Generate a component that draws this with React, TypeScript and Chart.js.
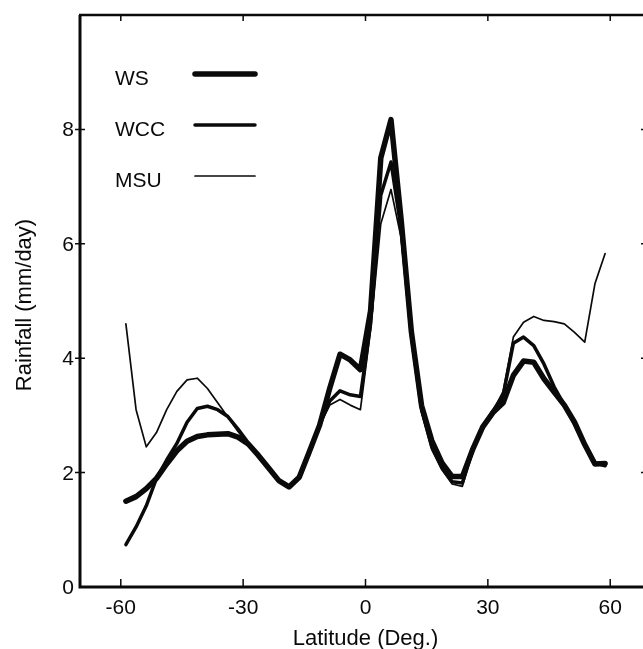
import React, { useEffect, useRef } from "react";
import { Chart, registerables } from "chart.js";

Chart.register(...registerables);

// ── Data (zonal mean rainfall, mm/day) ───────────────────────
const latitudes = [
  -58.75, -56.25, -53.75, -51.25, -48.75, -46.25, -43.75, -41.25, -38.75, -36.25,
  -33.75, -31.25, -28.75, -26.25, -23.75, -21.25, -18.75, -16.25, -13.75, -11.25,
  -8.75, -6.25, -3.75, -1.25, 1.25, 3.75, 6.25, 8.75, 11.25, 13.75,
  16.25, 18.75, 21.25, 23.75, 26.25, 28.75, 31.25, 33.75, 36.25, 38.75,
  41.25, 43.75, 46.25, 48.75, 51.25, 53.75, 56.25, 58.75,
];

const wsRain = [
  1.50, 1.58, 1.72, 1.90, 2.15, 2.38, 2.55, 2.63, 2.66, 2.67,
  2.68, 2.62, 2.50, 2.30, 2.08, 1.86, 1.75, 1.92, 2.37, 2.83,
  3.48, 4.07, 3.97, 3.80, 4.83, 7.50, 8.17, 6.41, 4.46, 3.17,
  2.56, 2.17, 1.93, 1.93, 2.40, 2.80, 3.05, 3.22, 3.70, 3.95,
  3.93, 3.64, 3.41, 3.18, 2.88, 2.49, 2.15, 2.16,
];

const wccRain = [
  0.74, 1.05, 1.42, 1.90, 2.22, 2.51, 2.88, 3.12, 3.16, 3.10,
  2.98, 2.76, 2.52, 2.30, 2.08, 1.86, 1.75, 1.92, 2.37, 2.83,
  3.25, 3.43, 3.36, 3.33, 4.60, 6.85, 7.43, 6.25, 4.40, 3.10,
  2.45, 2.08, 1.84, 1.82, 2.38, 2.80, 3.08, 3.35, 4.26, 4.37,
  4.22, 3.90, 3.50, 3.18, 2.85, 2.50, 2.17, 2.12,
];

const msuRain = [
  4.60, 3.10, 2.45, 2.70, 3.10, 3.42, 3.62, 3.65, 3.47, 3.22,
  2.97, 2.72, 2.50, 2.30, 2.08, 1.86, 1.75, 1.92, 2.37, 2.83,
  3.18, 3.28, 3.18, 3.10, 4.50, 6.35, 6.95, 6.10, 4.35, 3.05,
  2.40, 2.05, 1.80, 1.76, 2.36, 2.80, 3.08, 3.42, 4.37, 4.63,
  4.73, 4.66, 4.64, 4.60, 4.45, 4.28, 5.30, 5.83,
];

const seriesNames = ["WS", "WCC", "MSU"];
const xTicks = [-60, -30, 0, 30, 60];
const yTicks = [0, 2, 4, 6, 8];

const FONT = '"Liberation Sans", Arial, Helvetica, sans-serif';
const INK = "#0a0a0a";

// ── Frame, ticks, labels, legend ─────────────────────────────
const framePlugin = {
  id: "frame",
  afterDraw(chart: Chart) {
    const { ctx, chartArea: a } = chart;
    const x = chart.scales.x;
    const y = chart.scales.y;
    ctx.save();
    ctx.strokeStyle = INK;
    ctx.fillStyle = INK;
    ctx.lineCap = "butt";

    // axis lines (no right border inside the picture)
    ctx.lineWidth = 3;
    ctx.beginPath();
    ctx.moveTo(a.left, a.top);
    ctx.lineTo(a.left, a.bottom);
    ctx.lineTo(a.right, a.bottom);
    ctx.stroke();
    ctx.lineWidth = 2.5;
    ctx.beginPath();
    ctx.moveTo(a.left - 1, a.top);
    ctx.lineTo(a.right, a.top);
    ctx.stroke();

    // x ticks, inward on bottom and top
    ctx.lineWidth = 1.5;
    xTicks.forEach(v => {
      const px = x.getPixelForValue(v);
      ctx.beginPath();
      ctx.moveTo(px, a.bottom);
      ctx.lineTo(px, a.bottom - 8);
      ctx.moveTo(px, a.top);
      ctx.lineTo(px, a.top + 6);
      ctx.stroke();
    });
    // y ticks, crossing left axis; inward on right
    yTicks.forEach(v => {
      if (v === 0) return;
      const py = y.getPixelForValue(v);
      ctx.beginPath();
      ctx.moveTo(a.left - 5, py);
      ctx.lineTo(a.left + 5, py);
      ctx.moveTo(a.right, py);
      ctx.lineTo(a.right - 10, py);
      ctx.stroke();
    });

    // tick labels
    ctx.font = `21px ${FONT}`;
    ctx.textBaseline = "alphabetic";
    ctx.textAlign = "center";
    xTicks.forEach(v => ctx.fillText(String(v), x.getPixelForValue(v), a.bottom + 27));
    ctx.textAlign = "right";
    yTicks.forEach(v => ctx.fillText(String(v), a.left - 6, y.getPixelForValue(v) + 7));

    // axis titles
    ctx.font = `22px ${FONT}`;
    ctx.textAlign = "center";
    ctx.fillText("Latitude (Deg.)", x.getPixelForValue(0), a.bottom + 58);
    ctx.save();
    ctx.translate(31, (a.top + a.bottom) / 2 + 4);
    ctx.rotate(-Math.PI / 2);
    ctx.fillText("Rainfall (mm/day)", 0, 0);
    ctx.restore();

    // legend
    ctx.font = `21px ${FONT}`;
    ctx.textAlign = "left";
    chart.data.datasets.forEach((ds, i) => {
      const rowY = a.top + 59 + i * 51;
      ctx.fillText(ds.label || "", 115, rowY + 11);
      ctx.lineWidth = (ds as any).borderWidth;
      ctx.lineCap = "round";
      ctx.beginPath();
      ctx.moveTo(195, rowY);
      ctx.lineTo(255, rowY);
      ctx.stroke();
    });
    ctx.restore();
  },
};

// ── Chart ────────────────────────────────────────────────────
const RainfallChart: React.FC = () => {
  const ref = useRef<HTMLCanvasElement>(null);

  useEffect(() => {
    if (!ref.current) return;
    const series = [wsRain, wccRain, msuRain];
    const widths = [5.5, 3.5, 1.7];
    const chart = new Chart(ref.current, {
      type: "line",
      data: {
        datasets: series.map((vals, i) => ({
          label: seriesNames[i],
          data: latitudes.map((lat, j) => ({ x: lat, y: vals[j] })),
          borderColor: INK,
          borderWidth: widths[i],
          pointRadius: 0,
          tension: 0,
          fill: false,
          borderJoinStyle: "round" as const,
          borderCapStyle: "round" as const,
        })),
      },
      options: {
        responsive: false,
        animation: false,
        layout: { padding: { left: 80, top: 15, right: 29, bottom: 62 } },
        plugins: { legend: { display: false }, tooltip: { enabled: false } },
        scales: {
          x: { type: "linear", min: -70, max: 70, display: false },
          y: { type: "linear", min: 0, max: 10, display: false },
        },
      },
      plugins: [framePlugin],
    });
    return () => chart.destroy();
  }, []);

  return <canvas ref={ref} width={680} height={649} />;
};

export default function App() {
  return (
    <div style={{ position: "fixed", left: 0, top: 0, width: 643, height: 649, overflow: "hidden", background: "#fff" }}>
      <RainfallChart />
    </div>
  );
}
